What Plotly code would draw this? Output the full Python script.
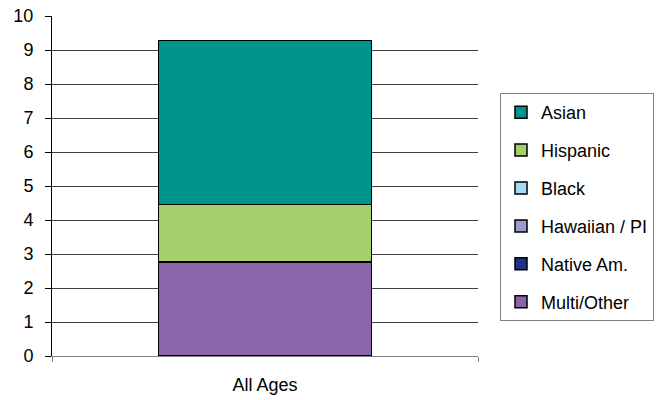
import plotly.graph_objects as go

categories = ["All Ages"]
series_names = ["Multi/Other", "Native Am.", "Hawaiian / PI", "Black", "Hispanic", "Asian"]
series_values = {
    "Multi/Other": [2.76],
    "Native Am.": [0],
    "Hawaiian / PI": [0],
    "Black": [0],
    "Hispanic": [1.70],
    "Asian": [4.82],
}
series_colors = {
    "Multi/Other": "#8B64AA",
    "Native Am.": "#1F2F8A",
    "Hawaiian / PI": "#9B9BD0",
    "Black": "#A6DCF3",
    "Hispanic": "#A3D06A",
    "Asian": "#00948F",
}
y_ticks = list(range(0, 11))

FONT = "Liberation Sans, Arial, sans-serif"

fig = go.Figure()
n = len(series_names)
for i, name in enumerate(series_names):
    fig.add_trace(go.Bar(
        x=categories, y=series_values[name], name=name,
        legendgroup=name, legendrank=1000 + (n - i),
        marker=dict(color=series_colors[name], line=dict(color="black", width=1.5)),
        width=0.5, hoverinfo="skip",
    ))

fig.update_layout(
    width=667, height=400,
    barmode="stack",
    paper_bgcolor="white", plot_bgcolor="white",
    margin=dict(l=52, r=189, t=16, b=44, autoexpand=False),
    font=dict(family=FONT, size=18, color="black"),
    showlegend=True,
    legend=dict(
        x=(500 - 52) / 426, xanchor="left",
        y=(356 - 93) / 340, yanchor="top",
        traceorder="grouped", tracegroupgap=11.5,
        bordercolor="#808080", borderwidth=1, bgcolor="white",
        font=dict(family=FONT, size=18, color="black"),
    ),
    xaxis=dict(
        type="category", range=[-0.5, 0.5], automargin=False,
        showline=True, linecolor="#808080", linewidth=1,
        ticks="outside", tickson="boundaries", ticklen=5, tickcolor="#808080",
        showgrid=False, ticklabelstandoff=12,
        tickfont=dict(family=FONT, size=18, color="black"),
    ),
    yaxis=dict(
        range=[0, 10], tickvals=y_ticks, ticktext=[str(v) for v in y_ticks],
        automargin=False,
        showline=True, linecolor="black", linewidth=1,
        ticks="outside", ticklen=6, tickcolor="black",
        showgrid=True, gridcolor="#404040", gridwidth=1,
        zeroline=False, ticklabelstandoff=8,
        tickfont=dict(family=FONT, size=18, color="black"),
    ),
)

fig.write_html(
    "out.html",
    config={"displayModeBar": False},
    post_script="document.body.style.margin='0';document.body.style.padding='0';",
)
